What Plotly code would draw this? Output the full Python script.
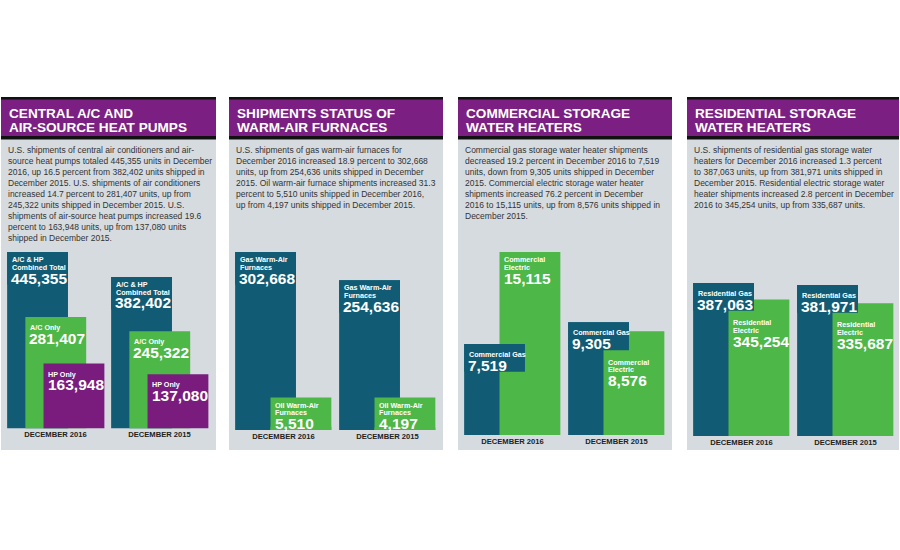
import plotly.graph_objects as go

W, H = 900, 550

# ---------------- data ----------------
periods = ["DECEMBER 2016", "DECEMBER 2015"]

titles = [
    ["CENTRAL A/C AND", "AIR-SOURCE HEAT PUMPS"],
    ["SHIPMENTS STATUS OF", "WARM-AIR FURNACES"],
    ["COMMERCIAL STORAGE", "WATER HEATERS"],
    ["RESIDENTIAL STORAGE", "WATER HEATERS"],
]

body_text = [
    ["U.S. shipments of central air conditioners and air-",
     "source heat pumps totaled 445,355 units in December",
     "2016, up 16.5 percent from 382,402 units shipped in",
     "December 2015. U.S. shipments of air conditioners",
     "increased 14.7 percent to 281,407 units, up from",
     "245,322 units shipped in December 2015. U.S.",
     "shipments of air-source heat pumps increased 19.6",
     "percent to 163,948 units, up from 137,080 units",
     "shipped in December 2015."],
    ["U.S. shipments of gas warm-air furnaces for",
     "December 2016 increased 18.9 percent to 302,668",
     "units, up from 254,636 units shipped in December",
     "2015. Oil warm-air furnace shipments increased 31.3",
     "percent to 5,510 units shipped in December 2016,",
     "up from 4,197 units shipped in December 2015."],
    ["Commercial gas storage water heater shipments",
     "decreased 19.2 percent in December 2016 to 7,519",
     "units, down from 9,305 units shipped in December",
     "2015. Commercial electric storage water heater",
     "shipments increased 76.2 percent in December",
     "2016 to 15,115 units, up from 8,576 units shipped in",
     "December 2015."],
    ["U.S. shipments of residential gas storage water",
     "heaters for December 2016 increased 1.3 percent",
     "to 387,063 units, up from 381,971 units shipped in",
     "December 2015. Residential electric storage water",
     "heater shipments increased 2.8 percent in December",
     "2016 to 345,254 units, up from 335,687 units."],
]

ac_hp_label = ["A/C & HP", "Combined Total"]
ac_hp_total = [445355, 382402]
ac_only_label = ["A/C Only"]
ac_only = [281407, 245322]
hp_only_label = ["HP Only"]
hp_only = [163948, 137080]

gas_furnace_label = ["Gas Warm-Air", "Furnaces"]
gas_furnace = [302668, 254636]
oil_furnace_label = ["Oil Warm-Air", "Furnaces"]
oil_furnace = [5510, 4197]

comm_gas_label = ["Commercial Gas"]
comm_gas = [7519, 9305]
comm_elec_label = ["Commercial", "Electric"]
comm_elec = [15115, 8576]

res_gas_label = ["Residential Gas"]
res_gas = [387063, 381971]
res_elec_label = ["Residential", "Electric"]
res_elec = [345254, 335687]

# ---------------- styles ----------------
TEAL = "#115c74"
GREEN = "#4db748"
PURPLE = "#7a1c7e"
HEADER = "#7b1f82"
PANEL_BG = "#d6dbe0"
TEXT = "#333333"
FONT = "Liberation Sans, Arial, sans-serif"

panels = [
    dict(x0=1, x1=216, base=428.5, top=252,
         series=[(ac_hp_label, ac_hp_total, TEAL), (ac_only_label, ac_only, GREEN),
                 (hp_only_label, hp_only, PURPLE)]),
    dict(x0=229, x1=443, base=430, top=252,
         series=[(gas_furnace_label, gas_furnace, TEAL), (oil_furnace_label, oil_furnace, GREEN)]),
    dict(x0=458, x1=672, base=435, top=252,
         series=[(comm_gas_label, comm_gas, TEAL), (comm_elec_label, comm_elec, GREEN)]),
    dict(x0=687, x1=899, base=436, top=283,
         series=[(res_gas_label, res_gas, TEAL), (res_elec_label, res_elec, GREEN)]),
]

UNIT = 104.0       # px per category step
CENTER = 54.5      # px from panel left to first group centre
BAR_W = 0.585
OFFSETS = {2: [-0.465, -0.125], 3: [-0.465, -0.29, -0.115]}
LINE_STEP = 7.7
NUM_GAP = 10.8
BOX_EXTRA = 6.5
LABEL_SIZE = 7.2
NUM_SIZE = 15.5

fig = go.Figure()
shapes = []
annotations = []
layout_axes = {}

for k, p in enumerate(panels):
    sfx = "" if k == 0 else str(k + 1)
    xa, ya = "x" + sfx, "y" + sfx
    pw = p["x1"] - p["x0"]
    vmax = max(max(s[1]) for s in p["series"])
    scale = (p["base"] - p["top"]) / vmax

    # panel background, header
    shapes.append(dict(type="rect", xref="paper", yref="paper", layer="below",
                       x0=p["x0"] / W, x1=p["x1"] / W, y0=1 - 450 / H, y1=1 - 139 / H,
                       fillcolor=PANEL_BG, line_width=0))
    shapes.append(dict(type="rect", xref="paper", yref="paper", layer="below",
                       x0=p["x0"] / W, x1=p["x1"] / W, y0=1 - 139.5 / H, y1=1 - 97 / H,
                       fillcolor="#111111", line_width=0))
    shapes.append(dict(type="rect", xref="paper", yref="paper", layer="below",
                       x0=p["x0"] / W, x1=p["x1"] / W, y0=1 - 136 / H, y1=1 - 99.5 / H,
                       fillcolor=HEADER, line_width=0))
    for li, t in enumerate(titles[k]):
        annotations.append(dict(xref="paper", yref="paper", x=(p["x0"] + 6) / W,
                                y=1 - (113 + 14 * li) / H, xanchor="left", yanchor="middle",
                                text="<b>" + t + "</b>", showarrow=False,
                                font=dict(family=FONT, size=13.6, color="white")))
    annotations.append(dict(xref="paper", yref="paper", x=(p["x0"] + 5) / W,
                            y=1 - 143 / H, xanchor="left", yanchor="top", align="left",
                            text="<br>".join(body_text[k]), showarrow=False,
                            font=dict(family=FONT, size=8.5, color=TEXT)))

    layout_axes["xaxis" + sfx] = dict(
        domain=[p["x0"] / W, p["x1"] / W], anchor=ya, type="category",
        categoryorder="array", categoryarray=periods,
        range=[-CENTER / UNIT, (pw - CENTER) / UNIT],
        showgrid=False, zeroline=False, showline=False, ticks="",
        tickfont=dict(family=FONT, size=7.6, color="#222222", weight="bold"),
        fixedrange=True)
    layout_axes["yaxis" + sfx] = dict(
        domain=[1 - p["base"] / H, 1 - p["top"] / H], anchor=xa,
        range=[0, vmax], visible=False, fixedrange=True)

    offs = OFFSETS[len(p["series"])]
    for si, (lab, vals, col) in enumerate(p["series"]):
        fig.add_trace(go.Bar(x=periods, y=vals, xaxis=xa, yaxis=ya, width=BAR_W,
                             offset=offs[si], marker=dict(color=col, line_width=0),
                             hoverinfo="skip", showlegend=False))

    # labels
    for gi, per in enumerate(periods):
        teal_box = None
        for si, (lab, vals, col) in enumerate(p["series"]):
            v = vals[gi]
            first = 7.5 if len(lab) > 1 else 10.5
            num_off = first + LINE_STEP * (len(lab) - 1) + NUM_GAP
            box_h = num_off + BOX_EXTRA
            h_px = v * scale
            xleft = gi + offs[si]
            anchor_v, start = v, 0.0
            if h_px < box_h:
                anchor_v, start = 0, -box_h
            if si > 0 and teal_box is not None:
                tv, tb = teal_box
                teal_top = p["base"] - tv * scale
                my_top = p["base"] - v * scale
                if teal_top < my_top + box_h and teal_top + tb > my_top:
                    anchor_v, start = tv, tb + 4.5
            if si == 0 or h_px < box_h:
                shapes.append(dict(type="rect", xref=xa, yref=ya, layer="above",
                                   x0=xleft, x1=xleft + BAR_W, ysizemode="pixel",
                                   yanchor=anchor_v, y0=-start, y1=-start - box_h,
                                   fillcolor=col, line_width=0))
            if si == 0:
                teal_box = (v, box_h)
            for li, t in enumerate(lab):
                annotations.append(dict(xref=xa, yref=ya, x=xleft, y=anchor_v,
                                        xanchor="left", yanchor="middle", xshift=2.5,
                                        yshift=-(start + first + LINE_STEP * li),
                                        text="<b>" + t + "</b>", showarrow=False,
                                        font=dict(family=FONT, size=LABEL_SIZE, color="white")))
            annotations.append(dict(xref=xa, yref=ya, x=xleft, y=anchor_v,
                                    xanchor="left", yanchor="middle", xshift=2,
                                    yshift=-(start + num_off),
                                    text="<b>" + f"{v:,}" + "</b>", showarrow=False,
                                    font=dict(family=FONT, size=NUM_SIZE, color="white")))

fig.update_layout(
    width=W, height=H, margin=dict(l=0, r=0, t=0, b=0),
    paper_bgcolor="white", plot_bgcolor="rgba(0,0,0,0)",
    barmode="overlay", showlegend=False,
    shapes=shapes, annotations=annotations, **layout_axes)

fig.write_html("out.html")
